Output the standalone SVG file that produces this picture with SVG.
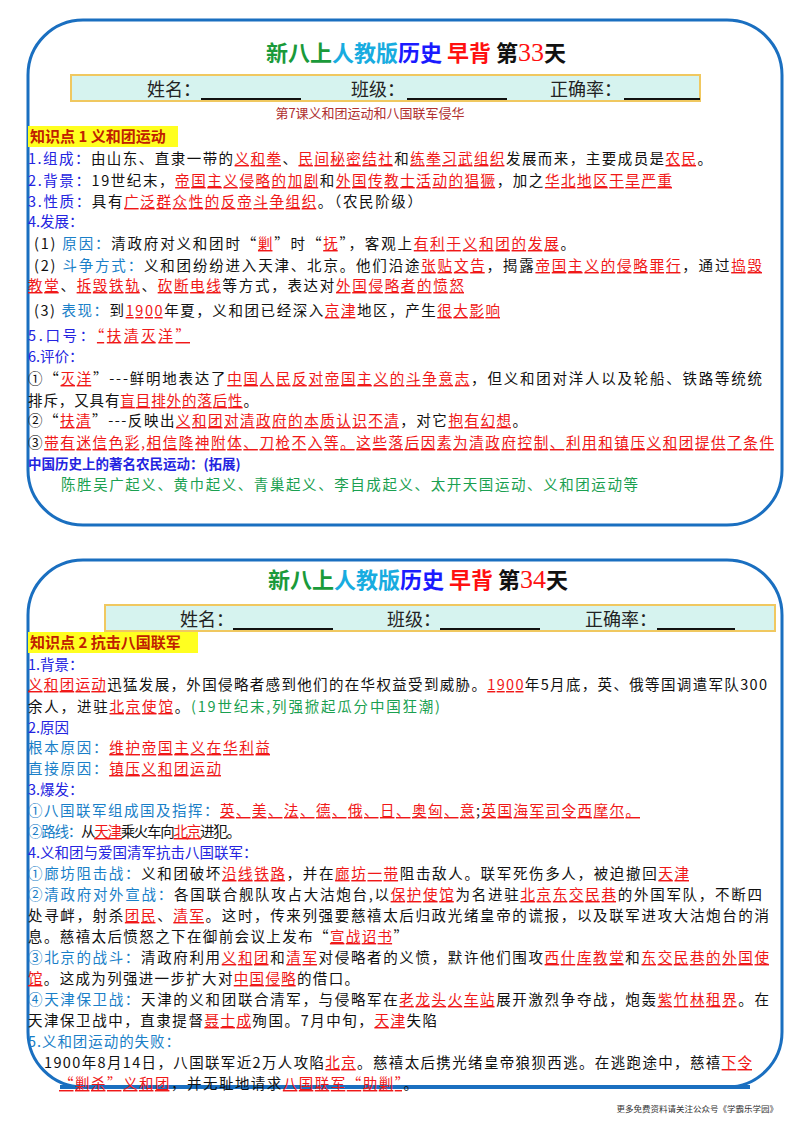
<svg xmlns="http://www.w3.org/2000/svg" width="800" height="1131" viewBox="0 0 800 1131">
<style>
text{font-family:"Noto Sans CJK SC","Noto Sans",sans-serif;font-size:14.5px;fill:#111}
.r{fill:#f01818;text-decoration:underline}
.b{fill:#2424e0}
.c{fill:#1a7fc8}
.g{fill:#1aa050}
.t{font-size:22px;font-weight:bold}
.nm{font-size:18px;fill:#222}
.hl{fill:#c02000;font-size:15px;font-weight:bold}
.sub{font-size:13px;fill:#b03030}
.ft{font-size:8.5px;fill:#333}
.box{fill:#fff;stroke:#1a6fc0;stroke-width:3}
.bar{fill:#d6f3ef;stroke:#f0c860;stroke-width:2}
.ul{stroke:#111;stroke-width:2}
</style>
<rect width="800" height="1131" fill="#fff"/>
<g id="card1">
<rect class="box" x="28" y="20" width="754" height="505" rx="55"/>
<text class="t" x="416" y="61" text-anchor="middle"><tspan fill="#1a9a3a">新八上</tspan><tspan fill="#18ace0">人教版</tspan><tspan fill="#1a1aff">历史 </tspan><tspan fill="#ff1010">早背 </tspan><tspan fill="#111">第</tspan><tspan fill="#ff1010" font-family="Liberation Serif,serif" font-weight="normal" font-size="26">33</tspan><tspan fill="#111">天</tspan></text>
<rect class="bar" x="71" y="75" width="629" height="26"/>
<text class="nm" x="147" y="96">姓名：</text><line class="ul" x1="201" y1="99" x2="301" y2="99"/>
<text class="nm" x="351" y="96">班级：</text><line class="ul" x1="407" y1="99" x2="507" y2="99"/>
<text class="nm" x="550" y="96">正确率：</text><line class="ul" x1="624" y1="99" x2="700" y2="99"/>
<text class="sub" x="370" y="118" text-anchor="middle">第7课义和团运动和八国联军侵华</text>
<rect x="28" y="126" width="150" height="21" fill="#ffff20"/>
<text class="hl" x="30" y="142">知识点 1 义和团运动</text>
<text x="28" y="164" textLength="684" lengthAdjust="spacing"><tspan class="b">1.组成：</tspan>由山东、直隶一带的<tspan class="r">义和拳</tspan>、<tspan class="r">民间秘密结社</tspan>和<tspan class="r">练拳习武组织</tspan>发展而来，主要成员是<tspan class="r">农民</tspan>。</text>
<text x="28" y="186" textLength="644" lengthAdjust="spacing"><tspan class="b">2.背景：</tspan>19世纪末，<tspan class="r">帝国主义侵略的加剧</tspan>和<tspan class="r">外国传教士活动的猖獗</tspan>，加之<tspan class="r">华北地区干旱严重</tspan></text>
<text x="28" y="207" textLength="394" lengthAdjust="spacing"><tspan class="b">3.性质：</tspan>具有<tspan class="r">广泛群众性的反帝斗争组织</tspan>。（农民阶级）</text>
<text x="28" y="227" class="b">4.发展：</text>
<text x="34" y="249" textLength="541" lengthAdjust="spacing">(1) <tspan class="c">原因：</tspan>清政府对义和团时“<tspan class="r">剿</tspan>”时“<tspan class="r">抚</tspan>”，客观上<tspan class="r">有利于义和团的发展</tspan>。</text>
<text x="34" y="271" textLength="728" lengthAdjust="spacing">(2) <tspan class="c">斗争方式：</tspan>义和团纷纷进入天津、北京。他们沿途<tspan class="r">张贴文告</tspan>，揭露<tspan class="r">帝国主义的侵略罪行</tspan>，通过<tspan class="r">捣毁</tspan></text>
<text x="28" y="291" textLength="436" lengthAdjust="spacing"><tspan class="r">教堂</tspan>、<tspan class="r">拆毁铁轨</tspan>、<tspan class="r">砍断电线</tspan>等方式，表达对<tspan class="r">外国侵略者的愤怒</tspan></text>
<text x="34" y="316" textLength="466" lengthAdjust="spacing">(3) <tspan class="c">表现：</tspan>到<tspan class="r">1900</tspan>年夏，义和团已经深入<tspan class="r">京津</tspan>地区，产生<tspan class="r">很大影响</tspan></text>
<text x="28" y="341" textLength="162" lengthAdjust="spacing"><tspan class="b">5.口号：</tspan><tspan class="r">“扶清灭洋”</tspan></text>
<text x="28" y="362" class="b">6.评价：</text>
<text x="28" y="384" textLength="734" lengthAdjust="spacing">①“<tspan class="r">灭洋</tspan>”---鲜明地表达了<tspan class="r">中国人民反对帝国主义的斗争意志</tspan>，但义和团对洋人以及轮船、铁路等统统</text>
<text x="28" y="406" textLength="230" lengthAdjust="spacing">排斥，又具有<tspan class="r">盲目排外的落后性</tspan>。</text>
<text x="28" y="426" textLength="499" lengthAdjust="spacing">②“<tspan class="r">扶清</tspan>”---反映出<tspan class="r">义和团对清政府的本质认识不清</tspan>，对它<tspan class="r">抱有幻想</tspan>。</text>
<text x="28" y="448" textLength="746" lengthAdjust="spacing">③<tspan class="r">带有迷信色彩,相信降神附体、刀枪不入等。这些落后因素为清政府控制、利用和镇压义和团提供了条件</tspan></text>
<text x="28" y="469" class="b" style="font-size:13.5px;font-weight:bold">中国历史上的著名农民运动：(拓展)</text>
<text x="61" y="490" class="g" textLength="577" lengthAdjust="spacing">陈胜吴广起义、黄巾起义、青巢起义、李自成起义、太开天国运动、义和团运动等</text>
</g>
<g id="card2">
<rect class="box" x="28" y="560" width="754" height="527" rx="55"/>
<line x1="60" y1="1087" x2="750" y2="1087" stroke="#1a6fc0" stroke-width="4"/>
<text class="t" x="418" y="588" text-anchor="middle"><tspan fill="#1a9a3a">新八上</tspan><tspan fill="#18ace0">人教版</tspan><tspan fill="#1a1aff">历史 </tspan><tspan fill="#ff1010">早背 </tspan><tspan fill="#111">第</tspan><tspan fill="#ff1010" font-family="Liberation Serif,serif" font-weight="normal" font-size="26">34</tspan><tspan fill="#111">天</tspan></text>
<rect class="bar" x="105" y="605" width="670" height="26"/>
<text class="nm" x="180" y="626">姓名：</text><line class="ul" x1="233" y1="629" x2="333" y2="629"/>
<text class="nm" x="387" y="626">班级：</text><line class="ul" x1="440" y1="629" x2="540" y2="629"/>
<text class="nm" x="585" y="626">正确率：</text><line class="ul" x1="657" y1="629" x2="735" y2="629"/>
<rect x="28" y="632" width="170" height="21" fill="#ffff20"/>
<text class="hl" x="30" y="648">知识点 2 抗击八国联军</text>
<text x="28" y="670" class="b">1.背景：</text>
<text x="28" y="690" textLength="739" lengthAdjust="spacing"><tspan class="r">义和团运动</tspan>迅猛发展，外国侵略者感到他们的在华权益受到威胁。<tspan class="r">1900</tspan>年5月底，英、俄等国调遣军队300</text>
<text x="28" y="712" textLength="412" lengthAdjust="spacing">余人，进驻<tspan class="r">北京使馆</tspan>。<tspan class="g">(19世纪末,列强掀起瓜分中国狂潮)</tspan></text>
<text x="28" y="733" class="b">2.原因</text>
<text x="28" y="753" textLength="242" lengthAdjust="spacing"><tspan class="c">根本原因：</tspan><tspan class="r">维护帝国主义在华利益</tspan></text>
<text x="28" y="774" textLength="193" lengthAdjust="spacing"><tspan class="c">直接原因：</tspan><tspan class="r">镇压义和团运动</tspan></text>
<text x="28" y="795" class="b">3.爆发：</text>
<text x="28" y="816" textLength="612" lengthAdjust="spacing"><tspan class="c">①八国联军组成国及指挥：</tspan><tspan class="r">英、美、法、德、俄、日、奥匈、意</tspan>;<tspan class="r">英国海军司令西摩尔。</tspan></text>
<text x="28" y="837" textLength="213" lengthAdjust="spacing"><tspan class="c">②路线：</tspan>从<tspan class="r">天津</tspan>乘火车向<tspan class="r">北京</tspan>进犯。</text>
<text x="28" y="858" class="b">4.义和团与爱国清军抗击八国联军：</text>
<text x="28" y="879" textLength="661" lengthAdjust="spacing"><tspan class="c">①廊坊阻击战：</tspan>义和团破坏<tspan class="r">沿线铁路</tspan>，并在<tspan class="r">廊坊一带</tspan>阻击敌人。联军死伤多人，被迫撤回<tspan class="r">天津</tspan></text>
<text x="28" y="900" textLength="734" lengthAdjust="spacing"><tspan class="c">②清政府对外宣战：</tspan>各国联合舰队攻占大沽炮台,以<tspan class="r">保护使馆</tspan>为名进驻<tspan class="r">北京东交民巷</tspan>的外国军队，不断四</text>
<text x="28" y="921" textLength="741" lengthAdjust="spacing">处寻衅，射杀<tspan class="r">团民</tspan>、<tspan class="r">清军</tspan>。这时，传来列强要慈禧太后归政光绪皇帝的谎报，以及联军进攻大沽炮台的消</text>
<text x="28" y="942" textLength="380" lengthAdjust="spacing">息。慈禧太后愤怒之下在御前会议上发布“<tspan class="r">宣战诏书</tspan>”</text>
<text x="28" y="963" textLength="741" lengthAdjust="spacing"><tspan class="c">③北京的战斗：</tspan>清政府利用<tspan class="r">义和团</tspan>和<tspan class="r">清军</tspan>对侵略者的义愤，默许他们围攻<tspan class="r">西什库教堂</tspan>和<tspan class="r">东交民巷的外国使</tspan></text>
<text x="28" y="984" textLength="331" lengthAdjust="spacing"><tspan class="r">馆</tspan>。这成为列强进一步扩大对<tspan class="r">中国侵略</tspan>的借口。</text>
<text x="28" y="1005" textLength="741" lengthAdjust="spacing"><tspan class="c">④天津保卫战：</tspan>天津的义和团联合清军，与侵略军在<tspan class="r">老龙头火车站</tspan>展开激烈争夺战，炮轰<tspan class="r">紫竹林租界</tspan>。在</text>
<text x="28" y="1026" textLength="409" lengthAdjust="spacing">天津保卫战中，直隶提督<tspan class="r">聂士成</tspan>殉国。7月中旬，<tspan class="r">天津</tspan>失陷</text>
<text x="28" y="1047" class="c" textLength="152" lengthAdjust="spacing">5.义和团运动的失败：</text>
<text x="44" y="1068" textLength="708" lengthAdjust="spacing">1900年8月14日，八国联军近2万人攻陷<tspan class="r">北京</tspan>。慈禧太后携光绪皇帝狼狈西逃。在逃跑途中，慈禧<tspan class="r">下令</tspan></text>
<text x="59" y="1089" textLength="359" lengthAdjust="spacing"><tspan class="r">“剿杀”义和团</tspan>，并无耻地请求<tspan class="r">八国联军“助剿”</tspan>。</text>
</g>
<text class="ft" x="778" y="1112" text-anchor="end">更多免费资料请关注公众号《学霸乐学园》</text>
</svg>
